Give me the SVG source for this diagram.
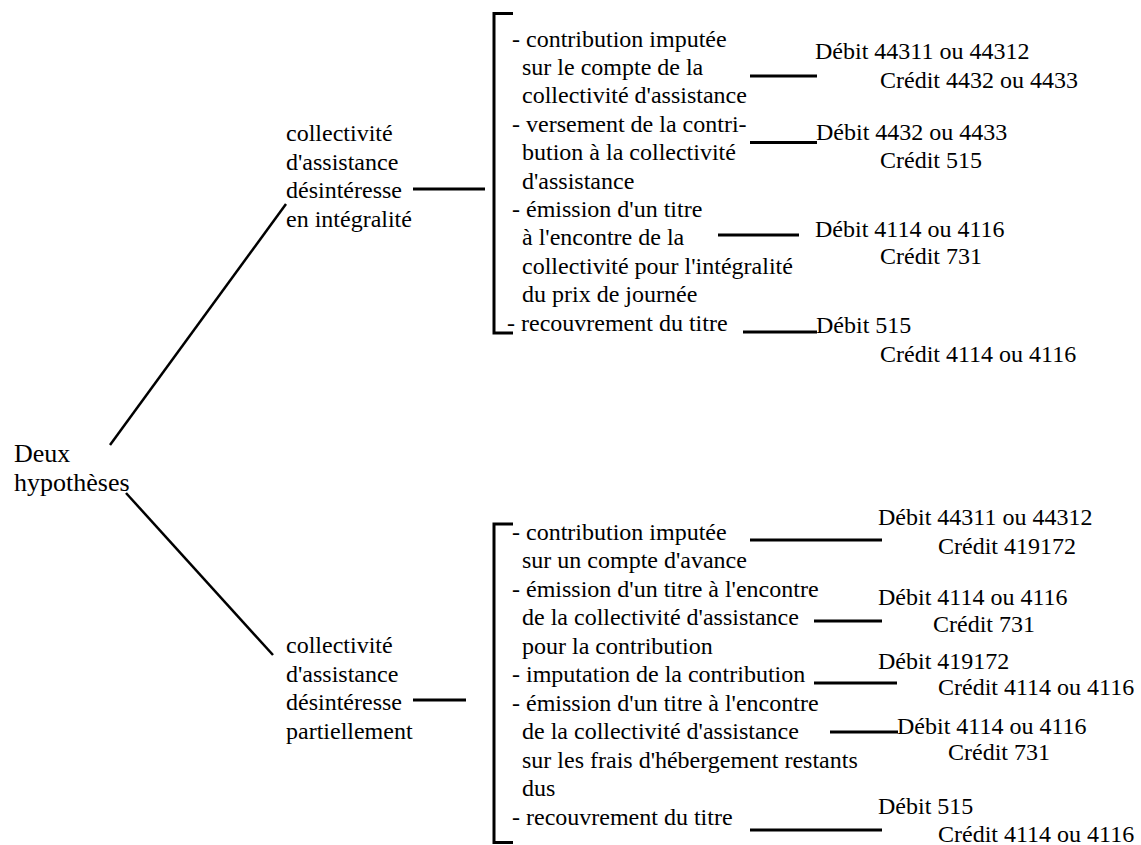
<svg xmlns="http://www.w3.org/2000/svg" width="1141" height="845" viewBox="0 0 1141 845" font-family="'Liberation Serif', 'Times New Roman', serif">
<style>
text{font-family:"Liberation Serif","Times New Roman",serif;font-size:24px;fill:#000}
.root text{font-size:26px}
.ln{stroke:#000;stroke-width:3;fill:none}
.dg{stroke:#000;stroke-width:2.5;fill:none}
</style>
<rect width="1141" height="845" fill="#fff"/>
<g id="connectors">
<line class="dg" x1="110" y1="445" x2="286" y2="204"/>
<line class="dg" x1="126" y1="493" x2="273" y2="655"/>
<line class="ln" x1="413" y1="189" x2="485" y2="189"/>
<line class="ln" x1="413" y1="700" x2="466" y2="700"/>
<path class="ln" d="M513,13.5 H494 V333 H513"/>
<path class="ln" d="M513,524 H494 V842.5 H513"/>
<line class="ln" x1="750" y1="76" x2="817" y2="76"/>
<line class="ln" x1="750" y1="142.5" x2="817" y2="142.5"/>
<line class="ln" x1="718" y1="235" x2="799" y2="235"/>
<line class="ln" x1="743" y1="332" x2="817" y2="332"/>
<line class="ln" x1="750" y1="540" x2="882" y2="540"/>
<line class="ln" x1="814" y1="621" x2="882" y2="621"/>
<line class="ln" x1="814" y1="683" x2="897" y2="683"/>
<line class="ln" x1="830" y1="732" x2="898" y2="732"/>
<line class="ln" x1="750" y1="830" x2="882" y2="830"/>
</g>
<g id="root" class="root">
<text x="14" y="462">Deux</text>
<text x="14" y="491">hypothèses</text>
</g>
<g id="branch-integralite">
<text x="286" y="141">collectivité</text>
<text x="286" y="169.5">d'assistance</text>
<text x="286" y="198">désintéresse</text>
<text x="286" y="226.5">en intégralité</text>
</g>
<g id="branch-partiel">
<text x="286" y="653">collectivité</text>
<text x="286" y="681.5">d'assistance</text>
<text x="286" y="710">désintéresse</text>
<text x="286" y="738.5">partiellement</text>
</g>
<g id="steps-integralite">
<text x="512" y="46.5">- contribution imputée</text>
<text x="522" y="75">sur le compte de la</text>
<text x="522" y="103">collectivité d'assistance</text>
<text x="512" y="131.5">- versement de la contri-</text>
<text x="522" y="160">bution à la collectivité</text>
<text x="522" y="188.5">d'assistance</text>
<text x="512" y="217">- émission d'un titre</text>
<text x="522" y="245">à l'encontre de la</text>
<text x="522" y="273.5">collectivité pour l'intégralité</text>
<text x="522" y="302">du prix de journée</text>
<text x="507" y="330.5">- recouvrement du titre</text>
</g>
<g id="steps-partiel">
<text x="512" y="539.5">- contribution imputée</text>
<text x="522" y="568">sur un compte d'avance</text>
<text x="512" y="596.5">- émission d'un titre à l'encontre</text>
<text x="522" y="625">de la collectivité d'assistance</text>
<text x="522" y="653.5">pour la contribution</text>
<text x="512" y="682">- imputation de la contribution</text>
<text x="512" y="710.5">- émission d'un titre à l'encontre</text>
<text x="522" y="739">de la collectivité d'assistance</text>
<text x="522" y="767.5">sur les frais d'hébergement restants</text>
<text x="522" y="796">dus</text>
<text x="512" y="824.5">- recouvrement du titre</text>
</g>
<g id="entries-integralite">
<text x="815" y="59">Débit 44311 ou 44312</text>
<text x="880" y="88">Crédit 4432 ou 4433</text>
<text x="816" y="140">Débit 4432 ou 4433</text>
<text x="880" y="168">Crédit 515</text>
<text x="815" y="236.5">Débit 4114 ou 4116</text>
<text x="880" y="263.5">Crédit 731</text>
<text x="816" y="333">Débit 515</text>
<text x="880" y="361.5">Crédit 4114 ou 4116</text>
</g>
<g id="entries-partiel">
<text x="878" y="525">Débit 44311 ou 44312</text>
<text x="938" y="553.5">Crédit 419172</text>
<text x="878" y="605">Débit 4114 ou 4116</text>
<text x="933" y="632">Crédit 731</text>
<text x="878" y="668.5">Débit 419172</text>
<text x="938" y="695">Crédit 4114 ou 4116</text>
<text x="897" y="733.5">Débit 4114 ou 4116</text>
<text x="948" y="760">Crédit 731</text>
<text x="878" y="813.5">Débit 515</text>
<text x="938" y="842">Crédit 4114 ou 4116</text>
</g>
</svg>
